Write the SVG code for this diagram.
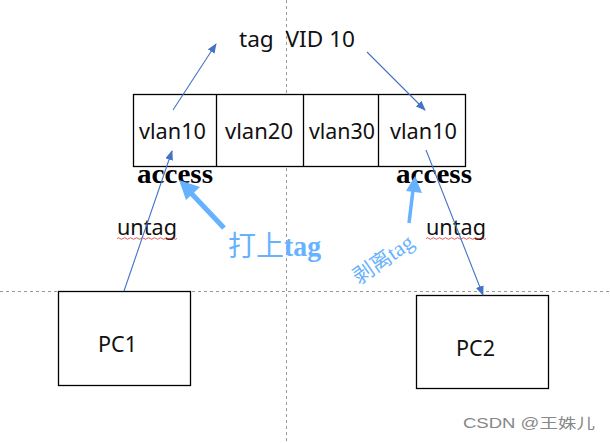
<svg xmlns="http://www.w3.org/2000/svg" width="610" height="443" viewBox="0 0 610 443">
<defs>
<style>
.box{fill:#fff;stroke:#000;stroke-width:1.3}
.lbl{font-family:"Noto Sans","Liberation Sans",sans-serif;font-size:21px;fill:#111}
.acc{font-family:"Liberation Serif",serif;font-weight:bold;font-size:28px;fill:#000}
.dash{stroke:#999;stroke-width:1;stroke-dasharray:3 3;fill:none}
.thin{stroke:#4472c4;stroke-width:1.1;fill:none}
.thick{stroke:#66b2ff;fill:none}
.cn{font-family:"Noto Sans CJK SC",sans-serif;fill:#66b2ff}
.tg{font-family:"Liberation Serif",serif;fill:#66b2ff}
.wavy{stroke:#e03030;stroke-width:0.8;fill:none}
</style>
<marker id="ah" markerWidth="10" markerHeight="8" refX="9" refY="4" orient="auto" markerUnits="userSpaceOnUse">
<path d="M0,0 L10,4 L0,8 Z" fill="#4472c4"/>
</marker>
</defs>
<rect width="610" height="443" fill="#fff"/>
<g id="guides">
<line class="dash" x1="286.5" y1="0" x2="286.5" y2="443"/>
<line class="dash" x1="0" y1="291.5" x2="610" y2="291.5"/>
</g>
<g id="switch">
<rect class="box" x="133.5" y="94.5" width="332" height="72"/>
<line class="box" x1="216.5" y1="94.5" x2="216.5" y2="166.5"/>
<line class="box" x1="303.5" y1="94.5" x2="303.5" y2="166.5"/>
<line class="box" x1="378.5" y1="94.5" x2="378.5" y2="166.5"/>
<text class="lbl" x="139" y="139" textLength="67" lengthAdjust="spacingAndGlyphs">vlan10</text>
<text class="lbl" x="225" y="139" textLength="68" lengthAdjust="spacingAndGlyphs">vlan20</text>
<text class="lbl" x="309" y="139" textLength="66" lengthAdjust="spacingAndGlyphs">vlan30</text>
<text class="lbl" x="390" y="139" textLength="67" lengthAdjust="spacingAndGlyphs">vlan10</text>
</g>
<g id="pc1">
<rect class="box" x="58.5" y="291.5" width="132" height="94"/>
<text class="lbl" x="98" y="352" textLength="39" lengthAdjust="spacingAndGlyphs">PC1</text>
</g>
<g id="pc2">
<rect class="box" x="416.5" y="295.5" width="132" height="93"/>
<text class="lbl" x="456" y="355.5" textLength="39" lengthAdjust="spacingAndGlyphs">PC2</text>
</g>
<g id="labels">
<text class="lbl" x="239" y="47" textLength="116" lengthAdjust="spacingAndGlyphs" xml:space="preserve">tag  VID 10</text>
<text class="acc" x="137" y="183" textLength="76" lengthAdjust="spacingAndGlyphs">access</text>
<text class="acc" x="396" y="183" textLength="76" lengthAdjust="spacingAndGlyphs">access</text>
<text class="lbl" x="117" y="235" textLength="60" lengthAdjust="spacingAndGlyphs">untag</text>
<text class="lbl" x="426" y="235" textLength="60" lengthAdjust="spacingAndGlyphs">untag</text>
<path class="wavy" d="M117,238.5 q1.5,-1.5 3,0 t3,0 t3,0 t3,0 t3,0 t3,0 t3,0 t3,0 t3,0 t3,0 t3,0 t3,0 t3,0 t3,0 t3,0 t3,0 t3,0 t3,0 t3,0 t3,0"/>
<path class="wavy" d="M426,238.5 q1.5,-1.5 3,0 t3,0 t3,0 t3,0 t3,0 t3,0 t3,0 t3,0 t3,0 t3,0 t3,0 t3,0 t3,0 t3,0 t3,0 t3,0 t3,0 t3,0 t3,0 t3,0"/>
<text x="228" y="256"><tspan class="cn" font-size="28">打上</tspan><tspan class="tg" font-size="30" font-weight="bold" textLength="37" lengthAdjust="spacingAndGlyphs">tag</tspan></text>
<text transform="translate(359,285) rotate(-35)"><tspan class="cn" font-size="21">剥离</tspan><tspan class="tg" font-size="22">tag</tspan></text>
<text x="463" y="428" font-family="Liberation Sans,Noto Sans CJK SC,sans-serif" font-size="14" fill="#888" textLength="132" lengthAdjust="spacingAndGlyphs">CSDN @王姝儿</text>
</g>
<g id="connectors">
<line class="thin" x1="173" y1="110" x2="216" y2="44" marker-end="url(#ah)"/>
<line class="thin" x1="367" y1="52" x2="425" y2="110" marker-end="url(#ah)"/>
<line class="thin" x1="124" y1="291" x2="172" y2="151" marker-end="url(#ah)"/>
<line class="thin" x1="426" y1="150" x2="483" y2="295" marker-end="url(#ah)"/>
<line class="thick" stroke-width="5" x1="224" y1="228" x2="190" y2="192"/>
<polygon points="179,180 200,187 186,200" fill="#66b2ff"/>
<line class="thick" stroke-width="3.5" x1="409" y1="223" x2="413" y2="190"/>
<polygon points="415,176 422,193 406,191" fill="#66b2ff"/>
</g>
</svg>
